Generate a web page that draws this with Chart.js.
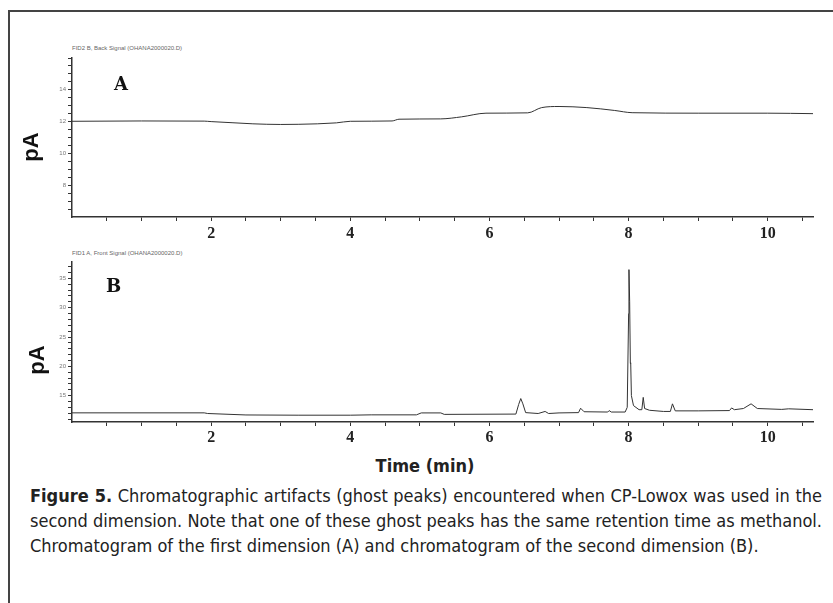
<!DOCTYPE html>
<html>
<head>
<meta charset="utf-8">
<script src="https://cdn.jsdelivr.net/npm/chart.js@4.4.0/dist/chart.umd.min.js"></script>
<style>
body { margin: 0; background: #fff; width: 833px; height: 603px; overflow: hidden; position: relative; font-family: "Liberation Sans Narrow", "DejaVu Sans Condensed", sans-serif; }
.frame { position: absolute; left: 8px; top: 10px; width: 900px; height: 700px; border: 2px solid #444; box-sizing: border-box; }
.box { position: absolute; left: 0; width: 833px; }
.hdr { position: absolute; left: 72px; font: 6px "Liberation Sans", sans-serif; color: #666; }
.pa { position: absolute; font: bold 22px "Liberation Sans", sans-serif; color: #111; transform: rotate(-90deg); transform-origin: center; }
.tag { position: absolute; font: bold 18px "DejaVu Serif", serif; color: #111; }
.xt { position: absolute; left: 0; width: 850px; text-align: center; top: 455px; font: bold 18px "Liberation Sans Narrow", "DejaVu Sans Condensed", sans-serif; color: #222; }
.cap { position: absolute; left: 30px; width: 792px; font-size: 18px; color: #222; text-align: justify; text-align-last: justify; white-space: nowrap; }
.cap.last { text-align-last: left; }
</style>
</head>
<body>
<div class="frame"></div>

<div class="hdr" style="top:45px">FID2 B, Back Signal (OHANA2000020.D)</div>
<div class="box" style="top:40px;height:200px"><canvas id="chartA"></canvas></div>
<div class="pa" style="left:16px;top:134px">pA</div>
<div class="tag" style="left:114px;top:73px">A</div>

<div class="hdr" style="top:250px">FID1 A, Front Signal (OHANA2000020.D)</div>
<div class="box" style="top:245px;height:210px"><canvas id="chartB"></canvas></div>
<div class="pa" style="left:22px;top:347px">pA</div>
<div class="tag" style="left:106px;top:275px">B</div>

<div class="xt">Time (min)</div>
<div class="cap" style="top:485px"><b>Figure 5.</b> Chromatographic artifacts (ghost peaks) encountered when CP-Lowox was used in the</div>
<div class="cap" style="top:510px">second dimension. Note that one of these ghost peaks has the same retention time as methanol.</div>
<div class="cap last" style="top:535px">Chromatogram of the first dimension (A) and chromatogram of the second dimension (B).</div>

<script>
// tick labels
var xTickLabels = [2, 4, 6, 8, 10];
var yTickLabelsA = [8, 10, 12, 14];
var yTickLabelsB = [15, 20, 25, 30, 35];

// trace A (first dimension)
var timesA = [0, 1.0, 1.9, 2.0, 2.3, 2.6, 3.0, 3.25, 3.8, 4.0, 4.6, 4.7, 5.3, 5.6, 5.95, 6.55, 6.75, 7.0, 7.4, 7.8, 8.05, 9.0, 10.0, 10.65];
var signalA = [12.02, 12.04, 12.03, 12.0, 11.93, 11.86, 11.82, 11.83, 11.92, 12.02, 12.04, 12.15, 12.17, 12.3, 12.53, 12.55, 12.88, 12.95, 12.88, 12.7, 12.56, 12.53, 12.53, 12.5];

// trace B (second dimension)
var timesB = [0, 1.9, 1.95, 2.5, 3.25, 4.0, 4.3, 4.95, 5.02, 5.3, 5.35, 6.38, 6.42, 6.45, 6.48, 6.52, 6.7, 6.8, 6.85, 7.0, 7.28, 7.31, 7.36, 7.7, 7.72, 7.75, 7.95, 7.98, 8.0, 8.005, 8.015, 8.025, 8.03, 8.04, 8.07, 8.15, 8.19, 8.21, 8.23, 8.3, 8.5, 8.6, 8.63, 8.67, 9.0, 9.45, 9.48, 9.52, 9.65, 9.76, 9.85, 10.2, 10.3, 10.65];
var signalB = [12.06, 12.06, 11.95, 11.7, 11.66, 11.66, 11.72, 11.72, 12.05, 12.05, 11.8, 11.85, 13.5, 14.5, 13.6, 12.1, 11.95, 12.3, 11.95, 12.05, 12.1, 12.85, 12.25, 12.2, 12.45, 12.2, 12.2, 13.0, 29.0, 36.5, 31.0, 20.5, 20.6, 15.0, 13.3, 12.6, 12.6, 14.7, 12.8, 12.5, 12.3, 12.3, 13.6, 12.4, 12.4, 12.45, 12.9, 12.6, 12.8, 13.6, 12.8, 12.65, 12.75, 12.6];

function toPoints(xs, ys) {
    var pts = [];
    for (var i = 0; i < xs.length; i++) pts.push({ x: xs[i], y: ys[i] });
    return pts;
}

function stepTicks(from, to, step) {
    var t = [];
    for (var v = from; v <= to + 1e-9; v += step) t.push({ value: Math.round(v * 100) / 100 });
    return t;
}

function makeChart(id, xs, ys, opt) {
    var ctx = document.getElementById(id);
    return new Chart(ctx, {
        type: 'line',
        data: {
            datasets: [{
                data: toPoints(xs, ys),
                borderColor: '#333',
                borderWidth: 1,
                pointRadius: 0,
                tension: opt.tension,
                cubicInterpolationMode: opt.tension > 0 ? 'monotone' : 'default',
                fill: false
            }]
        },
        options: {
            responsive: true,
            maintainAspectRatio: false,
            animation: false,
            events: [],
            layout: { padding: { top: opt.padTop, right: 20, left: 0, bottom: 0 } },
            plugins: { legend: { display: false }, tooltip: { enabled: false } },
            scales: {
                x: {
                    type: 'linear',
                    min: 0,
                    max: 10.65,
                    afterBuildTicks: function (s) { s.ticks = stepTicks(0.5, 10.5, 0.5); },
                    afterFit: function (s) { s.height = opt.xHeight; },
                    border: { display: true, color: '#333', width: 1.5 },
                    grid: { drawOnChartArea: false, drawTicks: true, tickLength: 4, tickColor: '#333' },
                    ticks: {
                        autoSkip: false,
                        maxRotation: 0,
                        padding: opt.xPad,
                        color: '#222',
                        font: { family: 'Liberation Serif', weight: 'bold', size: 16 },
                        callback: function (v) { return xTickLabels.indexOf(v) >= 0 ? String(v) : ''; }
                    }
                },
                y: {
                    min: opt.yMin,
                    max: opt.yMax,
                    afterBuildTicks: function (s) { s.ticks = stepTicks(opt.tickFrom, opt.yMax, opt.yStep); },
                    afterFit: function (s) { s.width = 72; },
                    border: { display: true, color: '#333', width: 1.5 },
                    grid: { drawOnChartArea: false, drawTicks: true, tickLength: 4, tickColor: '#333' },
                    ticks: {
                        autoSkip: false,
                        padding: 2,
                        color: '#777',
                        font: { family: 'Liberation Sans', size: 6 },
                        callback: function (v) { return opt.yLabels.indexOf(v) >= 0 ? String(v) : ''; }
                    }
                }
            }
        }
    });
}

makeChart('chartA', timesA, signalA, {
    tension: 0.3, padTop: 18, xHeight: 23, xPad: 3,
    yMin: 6, yMax: 16, tickFrom: 6.5, yStep: 0.5, yLabels: yTickLabelsA
});

makeChart('chartB', timesB, signalB, {
    tension: 0, padTop: 17, xHeight: 33, xPad: 2,
    yMin: 10.5, yMax: 37.8, tickFrom: 11, yStep: 1, yLabels: yTickLabelsB
});
</script>
</body>
</html>
